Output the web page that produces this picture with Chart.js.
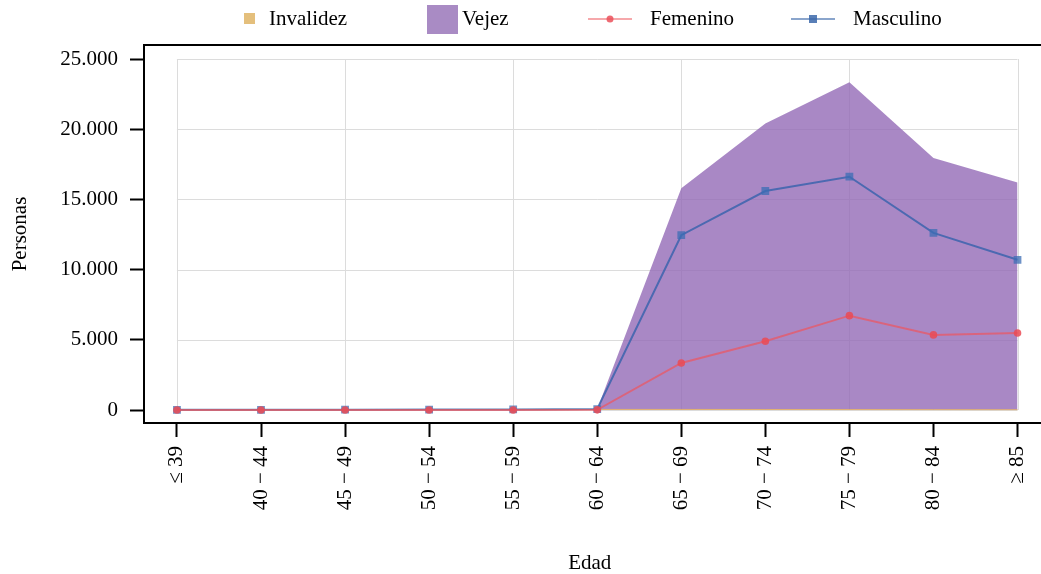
<!DOCTYPE html>
<html>
<head>
<meta charset="utf-8">
<script src="https://cdn.jsdelivr.net/npm/chart.js@4"></script>
<style>
  html, body { margin: 0; padding: 0; background: #fff; overflow: hidden; }
  #wrap { width: 1041px; height: 574px; position: relative; }
</style>
</head>
<body>
<div id="wrap"><canvas id="chart"></canvas></div>
<script>
// data
const ageGroups = ["\u2264 39", "40 \u2212 44", "45 \u2212 49", "50 \u2212 54", "55 \u2212 59", "60 \u2212 64",
                   "65 \u2212 69", "70 \u2212 74", "75 \u2212 79", "80 \u2212 84", "\u2265 85"];
const invalidez = [10, 15, 20, 30, 40, 40, 40, 35, 30, 25, 20];
const vejez     = [10, 15, 20, 30, 40, 70, 15800, 20400, 23350, 17950, 16200];
const femenino  = [0, 0, 0, 0, 5, 10, 3350, 4900, 6720, 5350, 5480];
const masculino = [10, 15, 20, 30, 40, 70, 12450, 15600, 16620, 12620, 10700];
const yTicks = [0, 5000, 10000, 15000, 20000, 25000];

const FONT = "'Liberation Serif', 'DejaVu Serif', serif";
const FSIZE = 21;

function pts(arr) {
    return arr.map(function (v, i) { return { x: i, y: v }; });
}

function fmt(v) {
    return v.toLocaleString("de-DE");
}

// light grid inside the data box + top spine
const framePlugin = {
    id: "frame",
    beforeDatasetsDraw: function (chart) {
        const ctx = chart.ctx;
        const xs = chart.scales.x, ys = chart.scales.y;
        const x0 = xs.getPixelForValue(0), x1 = xs.getPixelForValue(ageGroups.length - 1);
        const y0 = ys.getPixelForValue(0), y1 = ys.getPixelForValue(25000);
        ctx.save();
        ctx.strokeStyle = "#dcdcdc";
        ctx.lineWidth = 1;
        yTicks.forEach(function (t) {
            const y = Math.round(ys.getPixelForValue(t)) + 0.5;
            ctx.beginPath(); ctx.moveTo(x0, y); ctx.lineTo(x1, y); ctx.stroke();
        });
        for (let i = 0; i < ageGroups.length; i += 2) {
            const x = Math.round(xs.getPixelForValue(i)) + 0.5;
            ctx.beginPath(); ctx.moveTo(x, y1); ctx.lineTo(x, y0); ctx.stroke();
        }
        ctx.restore();
    },
    afterDraw: function (chart) {
        const ctx = chart.ctx;
        const a = chart.chartArea;
        ctx.save();
        ctx.strokeStyle = "#000";
        ctx.lineWidth = 2;
        // top spine, and the bottom spine carried on to the edge
        ctx.beginPath(); ctx.moveTo(a.left - 1, a.top); ctx.lineTo(chart.width, a.top); ctx.stroke();
        ctx.beginPath(); ctx.moveTo(a.right - 2, a.bottom); ctx.lineTo(chart.width, a.bottom); ctx.stroke();
        ctx.restore();
    }
};

// legend drawn like the matplotlib one
const legendPlugin = {
    id: "customLegend",
    afterDraw: function (chart) {
        const ctx = chart.ctx;
        const cy = 19;
        ctx.save();
        ctx.font = FSIZE + "px " + FONT;
        ctx.textBaseline = "middle";
        ctx.fillStyle = "#000";

        ctx.fillStyle = "#e4bf7c";
        ctx.fillRect(244, 13, 11, 11);
        ctx.fillStyle = "#000";
        ctx.fillText("Invalidez", 269, cy);

        ctx.fillStyle = "#a98bc4";
        ctx.fillRect(427, 5, 31, 29);
        ctx.fillStyle = "#000";
        ctx.fillText("Vejez", 462, cy);

        ctx.strokeStyle = "rgba(240,110,115,0.6)";
        ctx.lineWidth = 2;
        ctx.beginPath(); ctx.moveTo(588, cy); ctx.lineTo(632, cy); ctx.stroke();
        ctx.fillStyle = "rgba(235,80,90,0.85)";
        ctx.beginPath(); ctx.arc(610, cy, 3.5, 0, Math.PI * 2); ctx.fill();
        ctx.fillStyle = "#000";
        ctx.fillText("Femenino", 650, cy);

        ctx.strokeStyle = "rgba(60,105,170,0.6)";
        ctx.beginPath(); ctx.moveTo(791, cy); ctx.lineTo(835, cy); ctx.stroke();
        ctx.fillStyle = "rgba(60,105,170,0.85)";
        ctx.fillRect(809, 15, 8, 8);
        ctx.fillStyle = "#000";
        ctx.fillText("Masculino", 853, cy);
        ctx.restore();
    }
};

new Chart(document.getElementById("chart"), {
    type: "line",
    data: {
        datasets: [
            {
                label: "Masculino",
                data: pts(masculino),
                borderColor: "rgba(45,95,170,0.75)",
                backgroundColor: "rgba(60,110,180,0.75)",
                borderWidth: 2,
                pointStyle: "rect",
                pointRadius: 5.5,
                pointBorderWidth: 0,
                tension: 0,
                fill: false,
                clip: 10,
                order: 1
            },
            {
                label: "Femenino",
                data: pts(femenino),
                borderColor: "rgba(238,85,95,0.7)",
                backgroundColor: "rgba(235,75,85,0.85)",
                borderWidth: 2,
                pointStyle: "circle",
                pointRadius: 3.8,
                pointBorderWidth: 0,
                tension: 0,
                fill: false,
                clip: 10,
                order: 0
            },
            {
                label: "Invalidez",
                data: pts(invalidez),
                borderColor: "rgba(228,180,110,0.9)",
                backgroundColor: "rgba(228,180,110,0.9)",
                borderWidth: 1,
                pointRadius: 0,
                tension: 0,
                fill: "origin",
                order: 3
            },
            {
                label: "Vejez",
                data: pts(vejez),
                borderColor: "rgba(0,0,0,0)",
                backgroundColor: "rgba(148,106,182,0.8)",
                borderWidth: 0,
                pointRadius: 0,
                tension: 0,
                fill: "origin",
                order: 4
            }
        ]
    },
    options: {
        responsive: true,
        maintainAspectRatio: false,
        animation: false,
        layout: { padding: { top: 45, right: 0, left: 0, bottom: 0 } },
        plugins: {
            legend: { display: false },
            tooltip: { enabled: false },
            filler: { propagate: false }
        },
        scales: {
            x: {
                type: "linear",
                min: -0.392,
                max: 10.214,
                afterFit: function (scale) {
                    scale.height = 151;
                    scale.paddingLeft = 0;
                    scale.paddingRight = 0;
                },
                afterBuildTicks: function (scale) {
                    scale.ticks = ageGroups.map(function (_, i) { return { value: i }; });
                },
                grid: { display: true, drawOnChartArea: false, drawTicks: true, tickLength: 14, tickColor: "#000", tickWidth: 2 },
                border: { display: true, color: "#000", width: 2 },
                ticks: {
                    autoSkip: false,
                    minRotation: 90,
                    maxRotation: 90,
                    padding: 9,
                    color: "#000",
                    font: { family: FONT, size: FSIZE },
                    callback: function (v) { return ageGroups[v]; }
                },
                title: {
                    display: true,
                    text: "Edad",
                    color: "#000",
                    font: { family: FONT, size: FSIZE, lineHeight: 1 },
                    padding: { top: 0, bottom: 0 }
                }
            },
            y: {
                min: -926,
                max: 26000,
                afterFit: function (scale) {
                    scale.width = 144;
                    scale.paddingTop = 0;
                    scale.paddingBottom = 0;
                },
                afterBuildTicks: function (scale) {
                    scale.ticks = yTicks.map(function (t) { return { value: t }; });
                },
                grid: { display: true, drawOnChartArea: false, drawTicks: true, tickLength: 14, tickColor: "#000", tickWidth: 2 },
                border: { display: true, color: "#000", width: 2 },
                ticks: {
                    padding: 12,
                    color: "#000",
                    font: { family: FONT, size: FSIZE },
                    callback: function (v) { return fmt(v); }
                },
                title: {
                    display: true,
                    text: "Personas",
                    color: "#000",
                    font: { family: FONT, size: FSIZE, lineHeight: 1 },
                    padding: { top: 10, bottom: 0 }
                }
            }
        }
    },
    plugins: [framePlugin, legendPlugin]
});
</script>
</body>
</html>
